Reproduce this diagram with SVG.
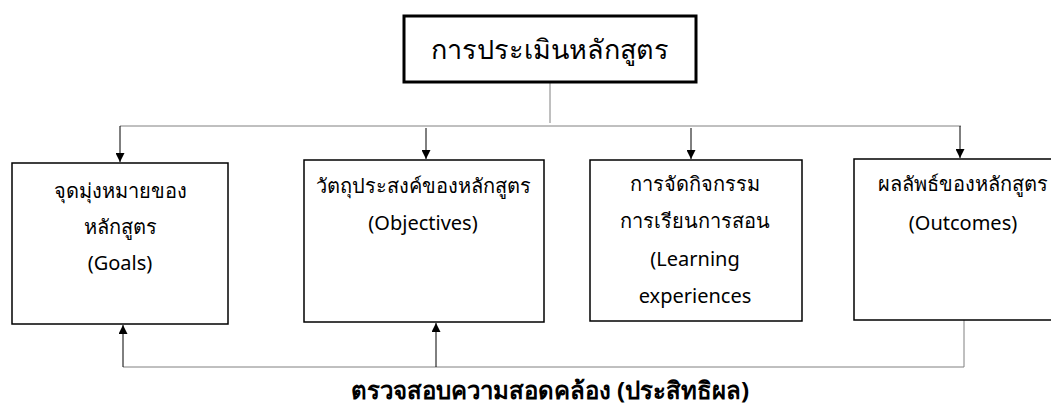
<svg xmlns="http://www.w3.org/2000/svg" width="1051" height="411" viewBox="0 0 1051 411">
<style>
.box{fill:#fff;stroke:#000;stroke-width:1.5}
.title{fill:#fff;stroke:#000;stroke-width:3}
.t{font-family:"Noto Sans","DejaVu Sans",sans-serif;font-size:20px;fill:#000;text-anchor:middle;dominant-baseline:central}
.tt{font-family:"Noto Sans","DejaVu Sans",sans-serif;font-size:27px;fill:#000;text-anchor:middle;dominant-baseline:central}
.tb{font-family:"Noto Sans","DejaVu Sans",sans-serif;font-size:24px;font-weight:bold;fill:#000;text-anchor:middle;dominant-baseline:central}
.ln{fill:none;stroke:#808080;stroke-width:1}
.ar{fill:none;stroke:#000;stroke-width:1}
</style>
<defs>
<marker id="ah" viewBox="0 0 10 10" refX="10" refY="5" markerWidth="9" markerHeight="9" markerUnits="userSpaceOnUse" orient="auto">
<path d="M0,0 L10,5 L0,10 z" fill="#000"/>
</marker>
</defs>
<rect width="1051" height="411" fill="#fff"/>
<g id="connectors">
<line class="ln" x1="550" y1="82" x2="550" y2="123"/>
<line class="ln" x1="120" y1="126" x2="961" y2="126"/>
<line class="ar" x1="120" y1="126" x2="120" y2="162" marker-end="url(#ah)"/>
<line class="ar" x1="426" y1="128" x2="426" y2="159" marker-end="url(#ah)"/>
<line class="ar" x1="691" y1="128" x2="691" y2="159" marker-end="url(#ah)"/>
<line class="ar" x1="960" y1="126" x2="960" y2="158" marker-end="url(#ah)"/>
<polyline class="ln" points="964,320 964,367 123,367"/>
<line class="ar" x1="123" y1="367" x2="123" y2="325" marker-end="url(#ah)"/>
<line class="ar" x1="436" y1="367" x2="436" y2="323" marker-end="url(#ah)"/>
</g>
<g id="title">
<rect class="title" x="404" y="16" width="292" height="66"/>
<text class="tt" x="550" y="48">การประเมินหลักสูตร</text>
</g>
<g id="goals">
<rect class="box" x="12" y="163" width="216" height="161"/>
<text class="t" x="120" y="190">จุดมุ่งหมายของ</text>
<text class="t" x="120" y="226">หลักสูตร</text>
<text class="t" x="120" y="262">(Goals)</text>
</g>
<g id="objectives">
<rect class="box" x="304" y="160" width="240" height="162"/>
<text class="t" x="423" y="185">วัตถุประสงค์ของหลักสูตร</text>
<text class="t" x="423" y="222">(Objectives)</text>
</g>
<g id="learning">
<rect class="box" x="590" y="160" width="212" height="161"/>
<text class="t" x="695" y="183">การจัดกิจกรรม</text>
<text class="t" x="695" y="220">การเรียนการสอน</text>
<text class="t" x="695" y="258">(Learning</text>
<text class="t" x="695" y="295">experiences</text>
</g>
<g id="outcomes">
<rect class="box" x="854" y="159" width="210" height="161"/>
<text class="t" x="963" y="183">ผลลัพธ์ของหลักสูตร</text>
<text class="t" x="963" y="222">(Outcomes)</text>
</g>
<g id="feedback-label">
<text class="tb" x="550" y="389">ตรวจสอบความสอดคล้อง (ประสิทธิผล)</text>
</g>
</svg>
